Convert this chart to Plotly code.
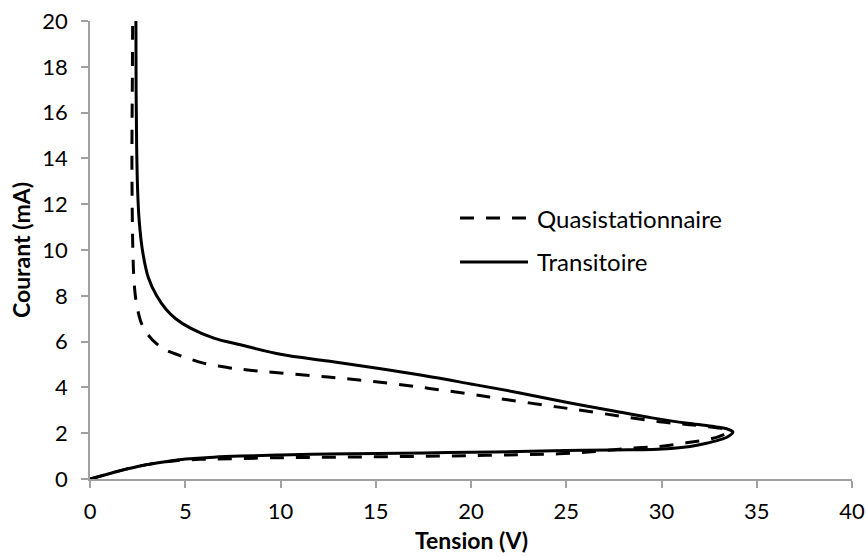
import plotly.graph_objects as go

# Courbes courant-tension (V en volts, I en mA)
quasi_v = [0, 1.0, 1.75, 2.5, 3.5, 4.5, 5.8, 7.5, 10, 12.5, 15, 17.5, 20, 22.5, 24.6,
           26.5, 28.2, 29.9, 31.3, 32.4, 33.1, 33.5, 33.3, 32.9, 31.5, 29.9, 27.8, 25.6,
           24.5, 22, 20, 17.6, 15, 12.5, 10, 8.5, 7.35, 6.0, 4.9, 4.0, 3.5, 3.0, 2.7,
           2.5, 2.38, 2.3, 2.25, 2.22, 2.2, 2.22, 2.24]
quasi_i = [0, 0.23, 0.4, 0.55, 0.7, 0.8, 0.86, 0.89, 0.93, 0.95, 0.97, 0.99, 1.02, 1.06,
           1.1, 1.2, 1.33, 1.42, 1.58, 1.72, 1.88, 2.08, 2.18, 2.24, 2.37, 2.5, 2.75, 3.02,
           3.15, 3.45, 3.7, 3.98, 4.25, 4.45, 4.63, 4.74, 4.85, 5.05, 5.34, 5.62, 5.9, 6.35, 6.8,
           7.4, 8.0, 8.8, 10.0, 11.5, 14.0, 17.0, 20.0]

trans_v = [0, 1.0, 1.75, 2.5, 3.5, 4.5, 5.25, 6.5, 7.9, 10, 12.5, 15, 17.5, 20, 22.5,
           25, 27.5, 29.5, 30.5, 31.5, 32.3, 33.0, 33.5, 33.75, 33.5, 32.8, 31.5, 29.5,
           27.5, 25, 22.5, 20, 17.5, 15, 12.5, 10, 7.9, 6.5, 5.25, 4.5, 4.0, 3.5, 3.06,
           2.75, 2.58, 2.5, 2.45, 2.42, 2.41]
trans_i = [0, 0.23, 0.4, 0.55, 0.7, 0.82, 0.88, 0.95, 1.0, 1.05, 1.09, 1.11, 1.14, 1.17,
           1.2, 1.24, 1.27, 1.29, 1.33, 1.42, 1.55, 1.7, 1.86, 2.05, 2.17, 2.28, 2.42,
           2.67, 2.97, 3.35, 3.77, 4.15, 4.52, 4.85, 5.15, 5.45, 5.86, 6.15, 6.6, 7.0,
           7.4, 8.0, 8.8, 10.0, 11.3, 12.6, 14.5, 17.0, 20.0]

x_ticks = [0, 5, 10, 15, 20, 25, 30, 35, 40]
y_ticks = [0, 2, 4, 6, 8, 10, 12, 14, 16, 18, 20]

series_names = ["Quasistationnaire", "Transitoire"]
x_title = "Tension (V)"
y_title = "Courant (mA)"

FONT = "Lato, 'Open Sans', sans-serif"
FONT_SIZE = 24
TICK_SIZE = 22
AXIS_COLOR = "#a0a0a0"
DASH = "14px,12px"

fig = go.Figure()
fig.add_trace(go.Scatter(x=quasi_v, y=quasi_i, mode="lines", name=series_names[0],
                         line=dict(color="black", width=3, dash=DASH, shape="spline",
                                   smoothing=1.0)))
fig.add_trace(go.Scatter(x=trans_v, y=trans_i, mode="lines", name=series_names[1],
                         line=dict(color="black", width=3, shape="spline", smoothing=1.0)))

# Légende dessinée à la main : segment + libellé
legend_rows = [(0.5698, DASH), (0.4738, "solid")]
for (ypos, dash), name in zip(legend_rows, series_names):
    fig.add_shape(type="line", xref="paper", yref="paper", x0=0.4856, x1=0.5748,
                  y0=ypos, y1=ypos, line=dict(color="black", width=3, dash=dash))
    fig.add_annotation(x=0.584, y=ypos, xref="paper", yref="paper", text=name,
                       showarrow=False, xanchor="left", yanchor="middle",
                       font=dict(family=FONT, size=FONT_SIZE, color="black"))

# Titres des axes placés en coordonnées papier
title_font = dict(family=FONT, size=FONT_SIZE - 1, color="black")
fig.add_annotation(x=0.5, y=-0.134, xref="paper", yref="paper", text=f"<b>{x_title}</b>",
                   showarrow=False, xanchor="center", yanchor="middle", font=title_font)
fig.add_annotation(x=-0.0905, y=0.5, xref="paper", yref="paper", text=f"<b>{y_title}</b>",
                   showarrow=False, xanchor="center", yanchor="middle", textangle=-90,
                   font=title_font)

axis_common = dict(showline=True, linecolor=AXIS_COLOR, linewidth=1.5, ticks="outside",
                   tickcolor=AXIS_COLOR, tickwidth=1.5, ticklen=7, showgrid=False,
                   zeroline=False, automargin=False,
                   tickfont=dict(family=FONT, size=TICK_SIZE, color="black"))

fig.update_xaxes(range=[0, 40], tickvals=x_ticks, ticklabelstandoff=5, **axis_common)
fig.update_yaxes(range=[0, 20], tickvals=y_ticks, ticklabelstandoff=9, **axis_common)

fig.update_layout(width=867, height=557, showlegend=False,
                  margin=dict(l=90, r=15, t=21, b=78, autoexpand=False),
                  paper_bgcolor="white", plot_bgcolor="white")

fig.write_html("out.html")
